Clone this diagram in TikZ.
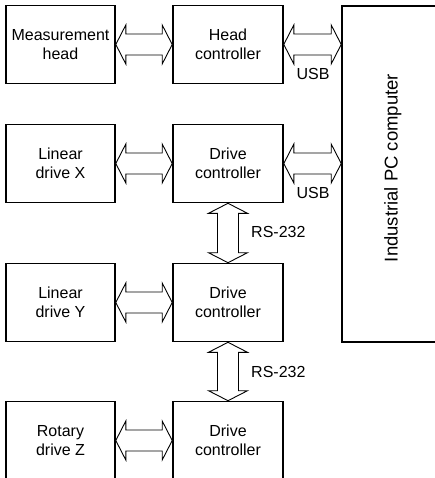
\documentclass[tikz,border=0pt]{standalone}
\usepackage{fontspec}
\setmainfont{Liberation Sans}
\usetikzlibrary{positioning,calc}
\newcommand{\hdlen}{10pt}
\newcommand{\hdwid}{19.5pt}
\newcommand{\shwid}{10.5pt}

\begin{document}
\begin{tikzpicture}[
  x=1pt, y=-1pt,
  every node/.style={font=\fontsize{16}{18.5}\selectfont},
  unit/.style={
    draw, line width=1.6pt, align=center,
    minimum width=110pt, minimum height=78pt, inner sep=0pt,
  },
  pcbox/.style={
    draw, line width=1.6pt, minimum width=102pt, minimum height=336pt,
    inner sep=0pt,
  },
  dblarrow/.style={
    draw, line width=0.9pt, fill=white, line join=miter,
    to path={
      -- ($(\tikztostart)!\hdlen!(\tikztotarget)!\hdwid!90:(\tikztotarget)$)
      -- ($(\tikztostart)!\hdlen!(\tikztotarget)!\shwid!90:(\tikztotarget)$)
      -- ($(\tikztotarget)!\hdlen!(\tikztostart)!\shwid!-90:(\tikztostart)$)
      -- ($(\tikztotarget)!\hdlen!(\tikztostart)!\hdwid!-90:(\tikztostart)$)
      -- (\tikztotarget)
      -- ($(\tikztotarget)!\hdlen!(\tikztostart)!\hdwid!90:(\tikztostart)$)
      -- ($(\tikztotarget)!\hdlen!(\tikztostart)!\shwid!90:(\tikztostart)$)
      -- ($(\tikztostart)!\hdlen!(\tikztotarget)!\shwid!-90:(\tikztotarget)$)
      -- ($(\tikztostart)!\hdlen!(\tikztotarget)!\hdwid!-90:(\tikztotarget)$)
      -- cycle
    },
  },
  bus/.style={inner sep=0pt},
]
  \useasboundingbox (0,0) rectangle (434,478);

  % left column: devices
  \node[unit, minimum width=109pt] (head)  at (60.5, 44.5)  {Measurement\\head};
  \node[unit, minimum width=109pt] (linX)  at (60.5, 163.5) {Linear\\drive X};
  \node[unit, minimum width=109pt] (linY)  at (60.5, 302.5) {Linear\\drive Y};
  \node[unit, minimum width=109pt] (rotZ)  at (60.5, 440.5) {Rotary\\drive Z};

  % middle column: controllers
  \node[unit] (headCtl) at (228, 44.5)  {Head\\controller};
  \node[unit] (drvX)    at (228, 163.5) {Drive\\controller};
  \node[unit] (drvY)    at (228, 302.5) {Drive\\controller};
  \node[unit] (drvZ)    at (228, 440.5) {Drive\\controller};

  % computer
  \node[pcbox] (pc) at (393, 174) {};
  \node[rotate=90, anchor=base, font=\fontsize{18.5}{22}\selectfont]
    (pcLbl) at (397.5, 168) {Industrial PC computer};

  % links
  \draw[dblarrow] (head.east) to (headCtl.west);
  \draw[dblarrow] (linX.east) to (drvX.west);
  \draw[dblarrow] (linY.east) to (drvY.west);
  \draw[dblarrow] (rotZ.east) to (drvZ.west);
  \draw[dblarrow] (headCtl.east) to (headCtl.east -| pc.west);
  \draw[dblarrow] (drvX.east) to (drvX.east -| pc.west);
  \draw[dblarrow] (drvX.south) to (drvY.north);
  \draw[dblarrow] (drvY.south) to (drvZ.north);

  % bus names
  \node[bus] (usb1) at (313, 73.5)  {USB};
  \node[bus] (usb2) at (313, 192.5) {USB};
  \node[bus, anchor=west] (rs1) at (251, 232) {RS-232};
  \node[bus, anchor=west] (rs2) at (251, 372) {RS-232};
\end{tikzpicture}
\end{document}
